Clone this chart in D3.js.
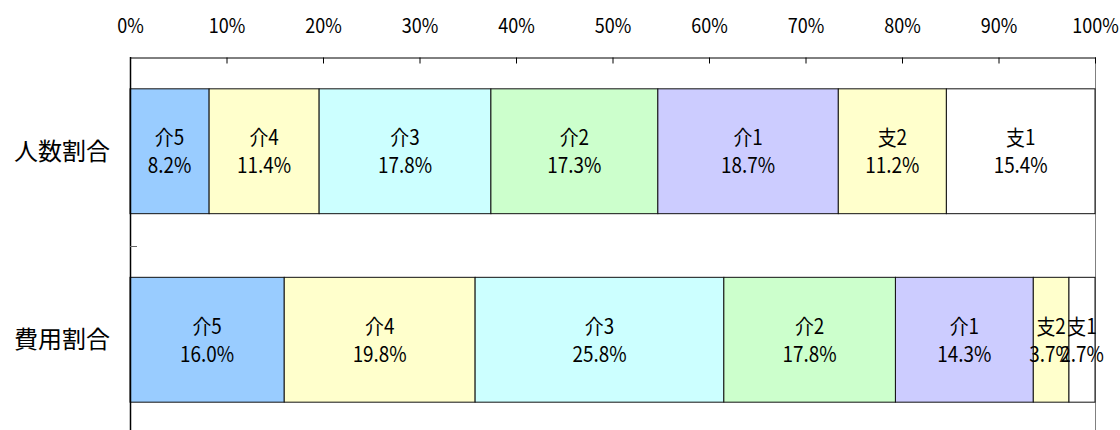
<!DOCTYPE html>
<html>
<head>
<meta charset="utf-8">
<script src="https://cdn.jsdelivr.net/npm/d3@7"></script>
<style>
  body { margin: 0; background: #fff; overflow: hidden; }
  text { font-family: "Noto Sans CJK JP", "Noto Sans", sans-serif; fill: #000; }
</style>
</head>
<body>
<div id="content"></div>
<script>
// data
var categories = ['人数割合', '費用割合'];
var levels = ['介5', '介4', '介3', '介2', '介1', '支2', '支1'];
var peopleShare = [8.2, 11.4, 17.8, 17.3, 18.7, 11.2, 15.4];
var costShare = [16.0, 19.8, 25.8, 17.8, 14.3, 3.7, 2.7];
var tickValues = [0, 0.1, 0.2, 0.3, 0.4, 0.5, 0.6, 0.7, 0.8, 0.9, 1];
var levelColors = ['#99ccff', '#ffffcc', '#ccffff', '#ccffcc', '#ccccff', '#ffffcc', '#ffffff'];

var width = 1120, height = 430;
var plotLeft = 130, plotRight = 1095, plotTop = 57, plotBottom = 434;

var svg = d3.select('#content')
  .append('svg')
  .attr('width', width)
  .attr('height', height);

// one row per category, one column per level
var rows = categories.map(function(c, i) {
  var vals = i == 0 ? peopleShare : costShare;
  var r = {cat: c};
  levels.forEach(function(l, j) { r[l] = vals[j]; });
  return r;
});

// 100% stacked (normalized like the original)
var series = d3.stack()
  .keys(levels)
  .offset(d3.stackOffsetExpand)(rows);

var xScale = d3.scaleLinear().domain([0, 1]).range([plotLeft, plotRight]);
var yScale = d3.scaleBand().domain(categories)
  .range([plotTop, plotBottom])
  .paddingInner(0.3376)
  .paddingOuter(0.1688);

var color = d3.scaleOrdinal().domain(levels).range(levelColors);

// right frame line
svg.append('line')
  .attr('x1', plotRight + 0.5).attr('x2', plotRight + 0.5)
  .attr('y1', plotTop).attr('y2', plotBottom)
  .attr('stroke', '#808080');

// bars
var groups = svg.selectAll('.level')
  .data(series)
  .join('g')
  .attr('class', 'level')
  .attr('fill', function(d) { return color(d.key); });

groups.selectAll('rect')
  .data(function(d) { return d; })
  .join('rect')
  .attr('x', function(d) { return xScale(d[0]); })
  .attr('y', function(d) { return yScale(d.data.cat); })
  .attr('width', function(d) { return xScale(d[1]) - xScale(d[0]); })
  .attr('height', yScale.bandwidth())
  .attr('stroke', '#111')
  .attr('stroke-width', 1);

// labels inside segments: level name + raw percentage
groups.each(function(s) {
  d3.select(this).selectAll('text')
    .data(s)
    .join('text')
    .attr('text-anchor', 'middle')
    .attr('font-size', 21)
    .attr('transform', function(d) {
      var cx = (xScale(d[0]) + xScale(d[1])) / 2;
      var cy = yScale(d.data.cat) + yScale.bandwidth() / 2;
      return 'translate(' + cx + ',' + cy + ') scale(0.9,1)';
    })
    .each(function(d) {
      var t = d3.select(this);
      t.append('tspan').attr('x', 0).attr('y', -6).text(s.key);
      t.append('tspan').attr('x', 0).attr('y', 22).text(d.data[s.key].toFixed(1) + '%');
    });
});

// top axis
var xAxis = d3.axisTop(xScale)
  .tickValues(tickValues)
  .tickFormat(d3.format('.0%'))
  .tickSizeInner(-6)
  .tickSizeOuter(0)
  .tickPadding(25);

var gx = svg.append('g')
  .attr('transform', 'translate(0,' + (plotTop + 0.5) + ')')
  .call(xAxis);
gx.select('.domain').attr('stroke', '#000');
gx.selectAll('.tick line').attr('stroke', '#000');
gx.selectAll('.tick text')
  .attr('font-size', 20)
  .attr('font-family', '"Noto Sans CJK JP", sans-serif')
  .attr('transform', 'scale(0.9,1)');

// left axis line + ticks between categories
svg.append('line')
  .attr('x1', plotLeft + 0.5).attr('x2', plotLeft + 0.5)
  .attr('y1', plotTop).attr('y2', plotBottom)
  .attr('stroke', '#000')
  .attr('stroke-width', 1.5);

var step = yScale.step();
svg.selectAll('.catTick')
  .data(categories.slice(1))
  .join('line')
  .attr('class', 'catTick')
  .attr('x1', plotLeft).attr('x2', plotLeft + 7)
  .attr('y1', function(d) { return Math.round(yScale(d) - step * 0.3376 / 2) + 0.5; })
  .attr('y2', function(d) { return Math.round(yScale(d) - step * 0.3376 / 2) + 0.5; })
  .attr('stroke', '#666');

svg.selectAll('.catLabel')
  .data(categories)
  .join('text')
  .attr('class', 'catLabel')
  .attr('x', plotLeft - 20)
  .attr('y', function(d) { return yScale(d) + yScale.bandwidth() / 2; })
  .attr('dy', '0.35em')
  .attr('text-anchor', 'end')
  .attr('font-size', 24)
  .text(function(d) { return d; });
</script>
</body>
</html>
